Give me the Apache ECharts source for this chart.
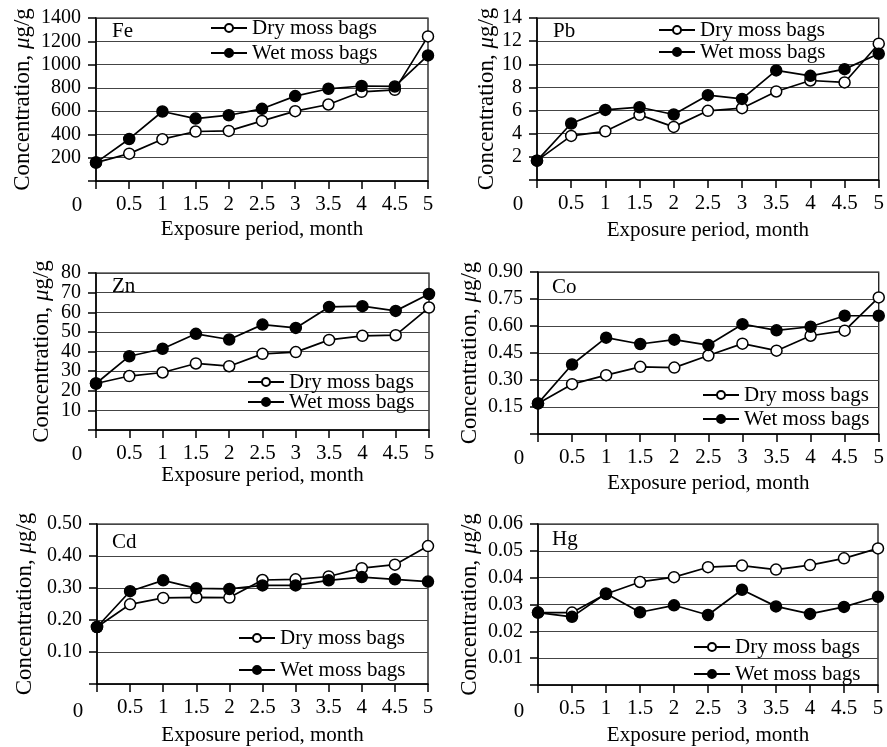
<!DOCTYPE html>
<html><head><meta charset="utf-8">
<script src="https://cdn.jsdelivr.net/npm/echarts@6/dist/echarts.min.js"></script>
<style>html,body{margin:0;padding:0;background:#fff}#c{width:887px;height:747px}</style>
</head><body><div id="c"></div>
<script>
var months = [0, 0.5, 1, 1.5, 2, 2.5, 3, 3.5, 4, 4.5, 5];
var seriesNames = ['Dry moss bags', 'Wet moss bags'];
var elements = ['Fe', 'Pb', 'Zn', 'Co', 'Cd', 'Hg'];

var feDry = [158, 235, 359, 425, 430, 516, 600, 657, 766, 783, 1242];
var feWet = [158, 361, 597, 536, 565, 620, 729, 792, 816, 812, 1079];
var pbDry = [1.67, 3.81, 4.21, 5.63, 4.59, 5.98, 6.21, 7.65, 8.6, 8.43, 11.78];
var pbWet = [1.67, 4.88, 6.06, 6.29, 5.66, 7.33, 7.01, 9.47, 9.0, 9.58, 10.91];
var znDry = [23.7, 27.5, 29.3, 33.9, 32.5, 38.8, 39.7, 45.9, 48.0, 48.3, 62.4];
var znWet = [23.7, 37.6, 41.4, 49.0, 46.1, 53.7, 52.0, 62.7, 63.1, 60.7, 69.3];
var coDry = [0.170, 0.277, 0.327, 0.373, 0.369, 0.436, 0.502, 0.463, 0.546, 0.574, 0.759];
var coWet = [0.170, 0.386, 0.535, 0.500, 0.524, 0.494, 0.610, 0.576, 0.596, 0.657, 0.657];
var cdDry = [0.178, 0.249, 0.269, 0.271, 0.270, 0.325, 0.327, 0.336, 0.362, 0.373, 0.431];
var cdWet = [0.178, 0.290, 0.324, 0.299, 0.297, 0.308, 0.308, 0.324, 0.334, 0.327, 0.320];
var hgDry = [0.0270, 0.0270, 0.0339, 0.0384, 0.0402, 0.0439, 0.0445, 0.0430, 0.0447, 0.0472, 0.0509];
var hgWet = [0.0270, 0.0254, 0.0341, 0.0271, 0.0297, 0.0261, 0.0355, 0.0293, 0.0265, 0.0291, 0.0329];

var yMax = [1400, 14, 80, 0.90, 0.50, 0.06];
var yStep = [200, 2, 10, 0.15, 0.10, 0.01];
var yDecimals = [0, 0, 0, 2, 2, 2];
var xLabel = 'Exposure period, month';
var yLabel = '{n|Concentration, }{i|\u03bc}{n|g/g}';
var originLabel = '0';

var dryData = [feDry, pbDry, znDry, coDry, cdDry, hgDry];
var wetData = [feWet, pbWet, znWet, coWet, cdWet, hgWet];

// layout
var FONT = 'Liberation Serif';
var FS = 21;
var grids = [
  {left: 96, top: 18, width: 332, height: 163},
  {left: 537, top: 18, width: 345, height: 162},
  {left: 96, top: 273, width: 333, height: 157},
  {left: 538, top: 272, width: 342, height: 162},
  {left: 97, top: 524, width: 331, height: 163},
  {left: 538, top: 524, width: 340, height: 163}
];
var yNameGap = [62, 38, 43, 57, 61, 57];
var xNameGap = [38, 40, 35, 39, 41, 40];
var legendPos = [
  {x: 210, rows: [28, 53]},
  {x: 658, rows: [30, 52]},
  {x: 247, rows: [382, 402]},
  {x: 702, rows: [395, 419]},
  {x: 238, rows: [638, 670]},
  {x: 693, rows: [647, 674]}
];
var panelLabelPos = [[112, 32], [553, 32], [112, 287], [552, 288], [112, 543], [552, 540]];

var option = {
  backgroundColor: '#fff',
  animation: false,
  grid: [], xAxis: [], yAxis: [], series: [], legend: [], graphic: []
};

function pair(arr) { return months.map(function (m, i) { return [m, arr[i]]; }); }

for (var k = 0; k < 6; k++) {
  var g = grids[k];
  option.grid.push({left: g.left, top: g.top, width: g.width, height: g.height,
    show: true, borderColor: '#000', borderWidth: 1.2, backgroundColor: 'transparent', containLabel: false});
  option.xAxis.push({
    type: 'value', gridIndex: k, min: 0, max: 5, interval: 0.5,
    name: xLabel, nameLocation: 'middle', nameGap: xNameGap[k],
    nameTextStyle: {fontFamily: FONT, fontSize: FS, color: '#000'},
    axisLine: {show: true, lineStyle: {color: '#000', width: 1.5}},
    axisTick: {show: true, length: 8, lineStyle: {color: '#000', width: 1.5}},
    axisLabel: {fontFamily: FONT, fontSize: FS, color: '#000', margin: 13, hideOverlap: false,
      formatter: function (v) { return v === 0 ? '' : String(v); }},
    splitLine: {show: false}
  });
  (function (dec, top) {
    option.yAxis.push({
      type: 'value', gridIndex: k, min: 0, max: top + yStep[k] * 1e-4, interval: yStep[k],
      name: yLabel, nameLocation: 'middle', nameGap: yNameGap[k],
      nameTextStyle: {rich: {
        n: {fontFamily: FONT, fontSize: 23, color: '#000'},
        i: {fontFamily: FONT, fontSize: 23, color: '#000', fontStyle: 'italic'}
      }},
      axisLine: {show: true, lineStyle: {color: '#000', width: 1.5}},
      axisTick: {show: true, length: 8, lineStyle: {color: '#000', width: 1.5}},
      axisLabel: {fontFamily: FONT, fontSize: 20, color: '#000', margin: 15,
        hideOverlap: false, showMinLabel: true, showMaxLabel: false,
        formatter: function (v) { return (Math.abs(v) < 1e-9 || v > top * 1.00001) ? '' : v.toFixed(dec); }},
      splitLine: {show: true, lineStyle: {color: '#444', width: 1.2}}
    });
  })(yDecimals[k], yMax[k]);
  option.series.push({
    type: 'line', name: seriesNames[0], xAxisIndex: k, yAxisIndex: k,
    data: pair(dryData[k]), symbol: 'circle', symbolSize: 11,
    itemStyle: {color: '#fff', borderColor: '#000', borderWidth: 1.5},
    lineStyle: {color: '#000', width: 1.7}, z: 3
  });
  option.series.push({
    type: 'line', name: seriesNames[1], xAxisIndex: k, yAxisIndex: k,
    data: pair(wetData[k]), symbol: 'circle', symbolSize: 11,
    itemStyle: {color: '#000', borderColor: '#000', borderWidth: 1.5},
    lineStyle: {color: '#000', width: 1.7}, z: 4
  });
  for (var r = 0; r < 2; r++) {
    option.legend.push({
      data: [seriesNames[r]], left: legendPos[k].x, top: legendPos[k].rows[r] - 11,
      orient: 'horizontal', padding: 0, itemWidth: 36, itemHeight: 10, itemGap: 0,
      selectedMode: false,
      textStyle: {fontFamily: FONT, fontSize: FS, color: '#000', lineHeight: 22, padding: [0, 0, 0, 0]}
    });
  }
  option.graphic.push({
    type: 'text', left: panelLabelPos[k][0], top: panelLabelPos[k][1] - 11,
    style: {text: elements[k], font: FS + 'px "' + FONT + '"', fill: '#000'}
  });
  option.graphic.push({
    type: 'text', x: g.left - 19, y: g.top + g.height + 24,
    style: {text: originLabel, font: FS + 'px "' + FONT + '"', fill: '#000', align: 'center', verticalAlign: 'middle'}
  });
}

var chart = echarts.init(document.getElementById('c'), null, {renderer: 'canvas'});
chart.setOption(option);
</script>
</body></html>
